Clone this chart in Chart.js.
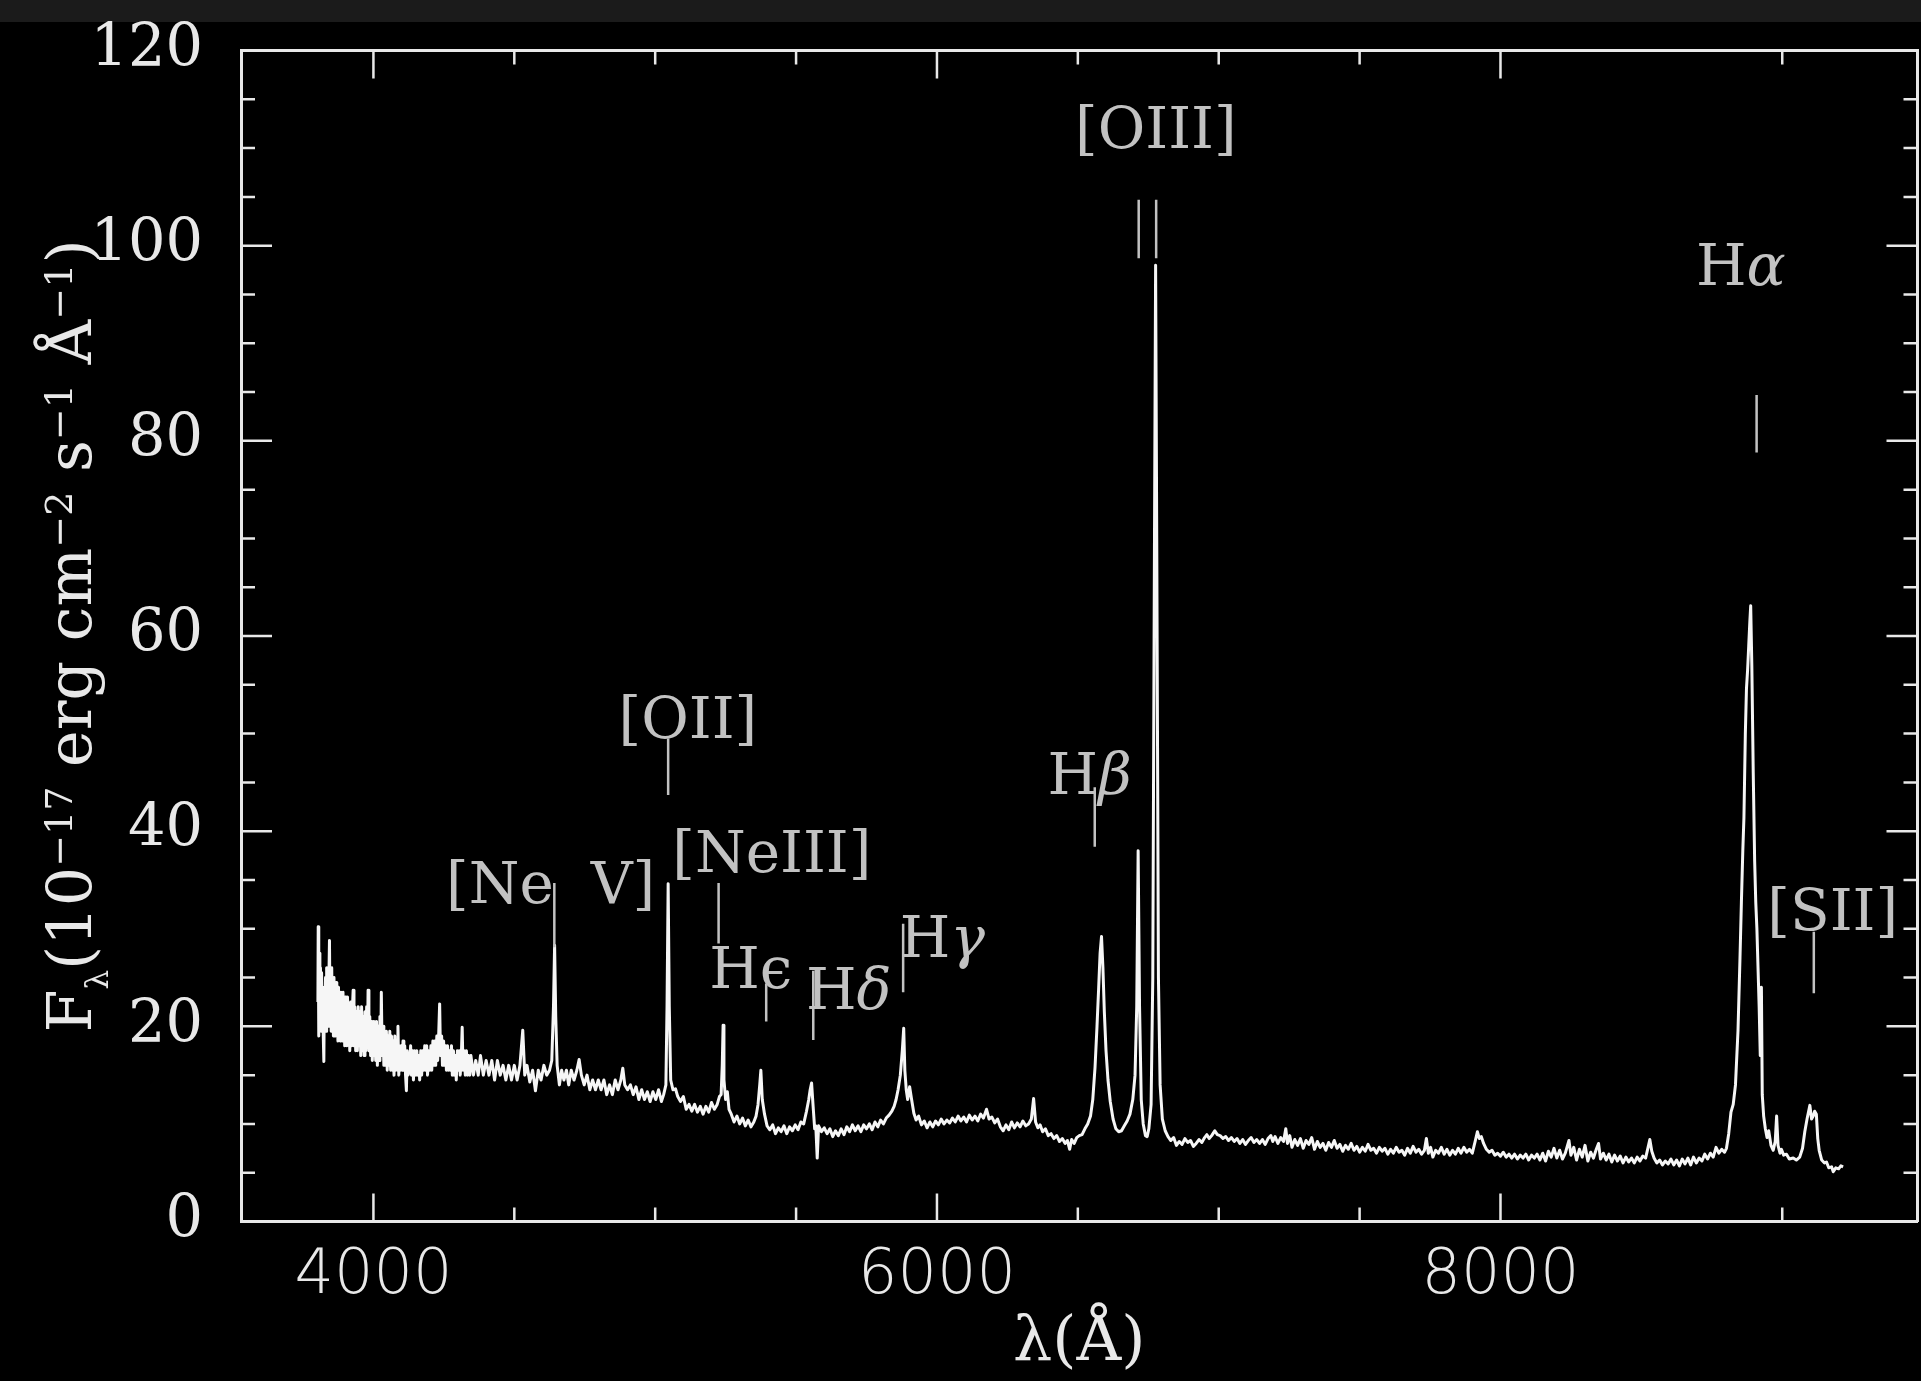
<!DOCTYPE html>
<html>
<head>
<meta charset="utf-8">
<title>Spectrum</title>
<script src="https://cdn.jsdelivr.net/npm/chart.js@4.4.1/dist/chart.umd.min.js"></script>
<style>
  html, body { margin: 0; padding: 0; background: #000; overflow: hidden; }
  canvas { display: block; }
</style>
</head>
<body>
<canvas id="spectrum" width="1921" height="1381"></canvas>
<script>
// observed spectrum read off the plot: wavelength in Angstrom, flux in 1e-17 erg cm-2 s-1 A-1
// noisy blue end
const blueWave = [
  3803, 3804, 3806, 3808, 3810, 3812, 3814, 3816, 3818, 3820, 3822, 3824, 3826, 3828, 3830, 3832,
  3834, 3836, 3838, 3840, 3842, 3844, 3846, 3848, 3850, 3852, 3854, 3856, 3858, 3860, 3862, 3864,
  3866, 3868, 3870, 3872, 3874, 3876, 3878, 3880, 3882, 3884, 3886, 3888, 3890, 3892, 3894, 3896,
  3898, 3900, 3902, 3904, 3906, 3908, 3910, 3913, 3916, 3919, 3922, 3925, 3928, 3931, 3934, 3937,
  3940, 3943, 3946, 3949, 3952, 3955, 3958, 3961, 3964, 3967, 3970, 3973, 3976, 3979, 3981, 3984,
  3987, 3990, 3993, 3996, 3999, 4002, 4005, 4008, 4011, 4014, 4017, 4020, 4023, 4026, 4028, 4031,
  4034, 4037, 4040, 4043, 4046, 4049, 4052, 4055, 4058, 4061, 4064, 4067, 4070, 4073, 4076, 4079,
  4082, 4085, 4087, 4090, 4093, 4096, 4099, 4102, 4105, 4108, 4111, 4114, 4117, 4120, 4123, 4128,
  4132, 4135, 4139, 4142, 4146, 4150, 4154, 4157, 4161, 4164, 4168, 4171, 4175, 4178, 4182, 4185,
  4189, 4192, 4196, 4200, 4204, 4207, 4211, 4214, 4218, 4221, 4225, 4228, 4232, 4235, 4238, 4242,
  4245, 4249, 4252, 4256, 4259, 4263, 4266, 4270, 4273, 4277, 4280, 4284, 4287, 4291, 4294, 4298,
  4301, 4305, 4308, 4312, 4315, 4318, 4322, 4326, 4330, 4334, 4338, 4342, 4346
];
const blueFlux = [
  22.5, 30.2, 19, 27.5, 20, 26, 19.5, 25.5, 21, 24, 19, 16.4, 24, 20, 25, 19.5,
  26, 20.5, 24.5, 20, 25, 28.8, 21, 25.5, 19.5, 26, 20, 24.5, 19, 25, 20, 23.5,
  19, 24.5, 20.5, 23, 18.5, 24, 19.5, 23, 18.5, 23.5, 19.5, 22.5, 18.5, 23.5, 19, 22.5,
  18, 23, 19, 22, 18, 23, 18.5, 22, 17.5, 22.5, 18, 21.5, 23.7, 18, 22, 17.5,
  21.5, 17.5, 22, 18, 21.5, 17, 22, 17.5, 21, 17, 21.5, 17.5, 22, 18, 23.7, 17.5,
  21, 17, 20.5, 16.5, 20.5, 17, 20, 16.5, 20.5, 16, 20, 16.5, 21, 17, 23.5, 17,
  20, 16, 19.5, 16, 19.5, 15.5, 19, 16, 19.5, 15.5, 19, 15.5, 18.5, 15, 19, 15.5,
  18.5, 15.5, 20, 15, 18, 15.5, 18, 15.5, 18.5, 15.5, 18, 15, 13.4, 17.5, 15, 15.5,
  18, 15, 17.5, 14.5, 17.5, 15, 17.5, 15, 17, 14.5, 17.5, 15, 17.5, 15.5, 18, 15.5,
  18, 15, 17.5, 15.5, 18, 15.5, 18.5, 16, 18.5, 16, 19, 16.5, 19.5, 22.3, 17, 19,
  16, 18.5, 16, 18, 15.5, 18, 15.5, 17.5, 15.5, 18, 15, 17.5, 15, 17, 14.5, 17.5,
  15.5, 17.5, 15, 17, 19.9, 15.5, 17.5, 15, 17.5, 15, 17, 15, 17
];
// rest of the spectrum
const redWave = [
  4355, 4363, 4372, 4380, 4390, 4400, 4410, 4420, 4430, 4440, 4450,
  4460, 4470, 4480, 4490, 4500, 4510, 4520, 4530, 4537, 4545, 4555, 4565, 4575, 4585, 4595, 4605,
  4615, 4625, 4633, 4639, 4643, 4647, 4652, 4660, 4668, 4676, 4685, 4693, 4702, 4712, 4722, 4730,
  4738, 4748, 4758, 4768, 4778, 4788, 4798, 4808, 4818, 4828, 4838, 4848, 4858, 4868, 4878, 4885,
  4892, 4902, 4912, 4922, 4932, 4942, 4952, 4962, 4972, 4982, 4992, 5002, 5012, 5022, 5030, 5038,
  5042, 5046, 5050, 5055, 5063, 5072, 5080, 5090, 5100, 5110, 5120, 5130, 5140, 5150, 5160, 5170,
  5180, 5190, 5200, 5210, 5220, 5228, 5234, 5238, 5241, 5244, 5250, 5256, 5262, 5270, 5280, 5290,
  5300, 5310, 5320, 5330, 5340, 5350, 5358, 5365, 5371, 5375, 5380, 5388, 5397, 5407, 5417, 5427,
  5437, 5447, 5457, 5467, 5477, 5487, 5497, 5507, 5517, 5527, 5537, 5545, 5550, 5555, 5560, 5566,
  5570, 5575, 5580, 5590, 5600, 5610, 5620, 5630, 5640, 5650, 5660, 5670, 5680, 5690, 5700, 5710,
  5720, 5730, 5740, 5750, 5760, 5770, 5780, 5790, 5800, 5810, 5820, 5830, 5840, 5848, 5855, 5862,
  5870, 5877, 5882, 5886, 5891, 5896, 5903, 5910, 5918, 5926, 5935, 5945, 5955, 5965, 5975, 5985,
  5995, 6005, 6015, 6025, 6035, 6045, 6055, 6065, 6075, 6085, 6095, 6105, 6115, 6125, 6135, 6145,
  6155, 6165, 6176, 6185, 6195, 6205, 6215, 6225, 6235, 6245, 6255, 6265, 6275, 6285, 6295, 6305,
  6315, 6325, 6335, 6343, 6350, 6358, 6366, 6375, 6385, 6395, 6405, 6415, 6425, 6435, 6445, 6455,
  6463, 6471, 6478, 6487, 6496, 6505, 6515, 6525, 6535, 6545, 6553, 6561, 6568, 6574, 6579, 6584,
  6589, 6594, 6600, 6607, 6615, 6625, 6635, 6645, 6655, 6665, 6675, 6685, 6695, 6703, 6709, 6714,
  6719, 6725, 6732, 6740, 6746, 6752, 6760, 6766, 6772, 6776, 6780, 6786, 6792, 6800, 6810, 6820,
  6830, 6840, 6850, 6860, 6870, 6880, 6890, 6900, 6910, 6920, 6930, 6940, 6950, 6958, 6966, 6975,
  6986, 6995, 7005, 7015, 7025, 7035, 7045, 7055, 7065, 7075, 7085, 7095, 7105, 7115, 7125, 7135,
  7145, 7155, 7165, 7175, 7185, 7192, 7200, 7210, 7220, 7230, 7238, 7244, 7252, 7260, 7270, 7280,
  7290, 7300, 7310, 7320, 7330, 7340, 7350, 7360, 7370, 7380, 7390, 7400, 7410, 7420, 7430, 7440,
  7450, 7460, 7470, 7480, 7490, 7500, 7510, 7520, 7530, 7540, 7550, 7560, 7570, 7580, 7590, 7600,
  7610, 7620, 7630, 7640, 7650, 7660, 7670, 7680, 7690, 7700, 7710, 7720, 7730, 7737, 7744, 7752,
  7760, 7770, 7780, 7790, 7800, 7810, 7820, 7830, 7840, 7850, 7860, 7870, 7880, 7890, 7900, 7910,
  7918, 7925, 7932, 7940, 7950, 7960, 7970, 7980, 7990, 8000, 8010, 8020, 8030, 8040, 8050, 8060,
  8070, 8080, 8090, 8100, 8110, 8120, 8130, 8140, 8150, 8160, 8170, 8180, 8190, 8200, 8210, 8220,
  8230, 8243, 8250, 8260, 8270, 8280, 8290, 8300, 8310, 8320, 8330, 8340, 8348, 8355, 8365, 8375,
  8385, 8395, 8405, 8415, 8425, 8435, 8445, 8455, 8465, 8475, 8485, 8495, 8505, 8515, 8523, 8530,
  8537, 8545, 8555, 8565, 8575, 8585, 8595, 8605, 8615, 8625, 8635, 8645, 8655, 8665, 8675, 8685,
  8695, 8705, 8715, 8725, 8735, 8745, 8755, 8765, 8775, 8785, 8795, 8802, 8810, 8818, 8826, 8834,
  8843, 8850, 8855, 8860, 8864, 8869, 8873, 8877, 8881, 8885, 8888, 8892, 8897, 8902, 8906, 8910,
  8914, 8918, 8922, 8926, 8929, 8934, 8940, 8946, 8952, 8960, 8968, 8975, 8980, 8985, 8992, 8997,
  9005, 9015, 9025, 9039, 9050, 9062, 9072, 9080, 9088, 9098, 9104, 9110, 9115, 9121, 9126, 9131,
  9140, 9150, 9157, 9165, 9175, 9181, 9190, 9200, 9208, 9216
];
const redFlux = [
  15, 16.5, 15, 17, 15, 16.5, 15, 16.5, 14.5, 16.5, 15,
  16, 14.5, 16, 14.5, 16, 14.5, 16, 19.6, 15, 16, 14.3, 15.5, 13.4, 15.5, 14.5, 16,
  15, 15.5, 16.5, 22, 28.3, 21, 16, 14, 15.5, 14.5, 15.5, 14, 15.5, 14.5, 15.5, 16.6,
  15, 14, 15, 13.5, 14.5, 13.5, 14.5, 13.5, 14.5, 13, 14, 13, 14.5, 13.5, 14.5, 15.7,
  14, 13.5, 14, 13, 13.8, 12.5, 13.5, 12.5, 13.3, 12.3, 13.3, 12.5, 13.5, 12.3, 13, 14,
  22, 34.6, 22, 14.5, 13.5, 13.6, 12.8, 12.3, 12.8, 11.5, 12, 11.3, 12, 11.2, 11.8, 11,
  11.8, 11.2, 12.2, 11.5, 12, 12.8, 13, 16, 20.1, 14.5, 12.5, 13.3, 11.5, 11, 10.2, 10.8,
  10, 10.6, 9.8, 10.4, 9.7, 10.2, 10.8, 12, 14, 15.5, 12.5, 11, 9.8, 9.4, 9.9, 9,
  9.6, 9.2, 9.8, 9, 9.7, 9.3, 9.9, 9.4, 10.2, 10, 11.3, 12.5, 13.5, 14.2, 12, 9.5,
  9.8, 6.5, 9.8, 9.2, 9.6, 9, 9.5, 8.7, 9.3, 8.8, 9.5, 8.9, 9.7, 9.2, 9.9, 9.3,
  9.8, 9.2, 9.9, 9.5, 10, 9.4, 10.2, 9.7, 10.4, 10, 10.6, 10.9, 11.3, 11.8, 12.5, 13.5,
  15, 17.5, 19.8, 15.5, 13.5, 12.5, 13.8, 12.5, 11.1, 10.4, 10.8, 9.9, 10.3, 9.6, 10.2, 9.7,
  10.3, 9.9, 10.5, 10, 10.4, 10.1, 10.6, 10.2, 10.8, 10.3, 10.7, 10.2, 10.9, 10.4, 10.8, 10.3,
  11, 10.6, 11.5, 10.5, 10.7, 10.1, 10.5, 9.7, 9.3, 9.9, 9.4, 10.2, 9.6, 10.1, 9.7, 10.3,
  9.8, 10, 10.5, 12.6, 10.2, 9.6, 9.9, 9.2, 9.5, 8.8, 9, 8.5, 8.8, 8.2, 8.5, 8,
  8.3, 7.4, 8.4, 8, 8.6, 8.8, 8.9, 9.5, 10, 10.8, 12.5, 15.8, 20, 24, 27.5, 29.2,
  26, 21.5, 17.5, 14.5, 12.3, 10.5, 9.5, 9.2, 9.3, 9.8, 10.3, 11, 12.5, 15, 22, 38,
  22, 12.5, 10, 8.8, 8.7, 9.5, 12, 25, 70, 98, 70, 25, 14, 10.5, 9.3, 8.7,
  8.3, 8.6, 7.8, 8.2, 7.9, 8.5, 8.1, 8.3, 7.7, 8, 8.4, 8.1, 8.6, 8.9, 8.5, 8.8,
  9.3, 8.9, 8.8, 8.5, 8.7, 8.3, 8.6, 8.2, 8.5, 8, 8.4, 7.9, 8.3, 8.6, 8.1, 8.4,
  8, 8.4, 7.9, 8.5, 8.8, 8.2, 8.7, 8, 8.6, 8.2, 9.5, 8, 8.8, 7.6, 8.4, 7.8,
  8.5, 7.5, 8.3, 7.9, 8.6, 7.4, 8.2, 7.6, 8, 7.3, 8.1, 7.6, 8.3, 7.5, 7.9, 7.2,
  7.8, 7.4, 8, 7.3, 7.7, 7.1, 7.6, 7.2, 7.9, 7.3, 7.5, 7, 7.6, 7.2, 7.5, 6.9,
  7.4, 7, 7.6, 7.1, 7.3, 6.8, 7.5, 7, 7.7, 7.1, 7.4, 6.9, 7.3, 8.5, 7, 7.6,
  6.6, 7.3, 7, 7.6, 6.9, 7.4, 6.8, 7.3, 6.9, 7.5, 7, 7.6, 7.1, 7.4, 7, 8.2,
  9.2, 8.5, 8.7, 8, 7.4, 7.1, 7.3, 6.8, 7, 6.7, 7.1, 6.6, 6.9, 6.5, 6.9, 6.4,
  6.8, 6.5, 6.9, 6.3, 6.8, 6.5, 6.9, 6.3, 7, 6.2, 7.2, 6.6, 7.5, 6.5, 7.3, 6.4,
  7, 8.3, 6.8, 7.6, 6.3, 7.4, 6.6, 7.8, 6.2, 7.1, 6.5, 7.4, 8, 6.4, 7, 6.3,
  6.9, 6.1, 6.8, 6.2, 6.7, 6, 6.6, 6.1, 6.5, 6, 6.6, 6.2, 6.7, 6.5, 7.5, 8.4,
  7.2, 6.5, 6, 6.3, 5.8, 6.2, 5.9, 6.4, 5.8, 6.3, 5.7, 6.4, 5.9, 6.5, 5.8, 6.6,
  6, 6.5, 6.2, 6.9, 6.4, 7, 6.6, 7.6, 7, 7.4, 7.1, 7.5, 9, 11.2, 12, 14,
  19.6, 27, 32.7, 38, 41.4, 50, 54.6, 56.5, 59, 61.5, 63.1, 57, 46, 37, 32.7, 30,
  26, 22, 17, 24, 13, 10.8, 9.5, 8.6, 9.3, 7.8, 7.3, 8.2, 10.8, 7.8, 7, 7.4,
  6.8, 6.9, 6.4, 6.5, 6.3, 6.6, 7.5, 9.2, 10.5, 11.9, 10.5, 10.8, 11.3, 11, 8.5, 7.3,
  6.3, 6, 6.1, 5.5, 5.6, 5.1, 5.5, 5.4, 5.7, 5.6
];

// axis ticks
const xTickLabels = [4000, 6000, 8000];
const xMinorTicks = [4500, 5000, 5500, 6500, 7000, 7500, 9000];
const yTickLabels = [0, 20, 40, 60, 80, 100, 120];
const yMinorTicks = [5, 10, 15, 25, 30, 35, 45, 50, 55, 65, 70, 75, 85, 90, 95, 105, 110, 115];

// line identifications: label text, centre wavelength, baseline flux
const lineNames = ['[Ne  V]', '[OII]', '[NeIII]', 'Hϵ', 'Hδ', 'Hγ', 'Hβ', '[OIII]', 'Hα', '[SII]'];
const labelWave = [4629, 5116, 5414, 5339, 5687, 6019, 6542, 6777, 8853, 9179];
const labelFlux = [32.6, 49.5, 35.8, 23.9, 21.8, 27.1, 43.8, 110, 96, 29.9];
// marker bars under the labels
const markWave = [4642, 5046, 5225, 5394, 5561, 5880, 6560, 6716, 6778, 8909, 9112];
const markTop = [34.7, 49.5, 34.7, 24.4, 25.7, 30.5, 44.5, 104.7, 104.7, 84.7, 29.7];
const markBottom = [28.1, 43.7, 28.5, 20.5, 18.6, 23.5, 38.4, 98.7, 98.7, 78.8, 23.4];

const frameColor = '#e8e8e8';
const labelGrey = '#c2c2c2';
const serif = '"DejaVu Serif", "Liberation Serif", serif';
const labelFont = '58px ' + serif;
const italicGreek = 'αβγδ';

// y title pieces: text, 0 normal, 1 superscript, -1 subscript
const yTitle = [['F', 0], ['λ', -1], ['(10', 0], ['−17', 1], [' erg cm', 0], ['−2', 1],
  [' s', 0], ['−1', 1], [' Å', 0], ['−1', 1], [')', 0]];

function drawRichText(ctx, parts, size) {
    const fonts = { '0': size + 'px ' + serif, '1': Math.round(size * 0.62) + 'px ' + serif, '-1': Math.round(size * 0.5) + 'px ' + serif };
    const shift = { '0': 0, '1': -size * 0.31, '-1': size * 0.28 };
    let total = 0;
    parts.forEach(p => { ctx.font = fonts[p[1]]; total += ctx.measureText(p[0]).width; });
    let pos = -total / 2;
    parts.forEach(p => {
        ctx.font = fonts[p[1]];
        ctx.fillText(p[0], pos, shift[p[1]]);
        pos += ctx.measureText(p[0]).width;
    });
}

const decor = {
    id: 'decor',
    beforeDraw(chart) {
        const ctx = chart.ctx;
        ctx.save();
        ctx.fillStyle = '#000';
        ctx.fillRect(0, 0, chart.width, chart.height);
        ctx.fillStyle = '#1b1b1b';
        ctx.fillRect(0, 0, chart.width, 22);
        ctx.restore();
    },
    afterDraw(chart) {
        const { ctx, chartArea: area, scales: { x, y } } = chart;
        ctx.save();

        // inward ticks on all four sides
        ctx.strokeStyle = frameColor;
        ctx.lineWidth = 2.5;
        ctx.beginPath();
        const xTick = (v, len) => {
            const px = x.getPixelForValue(v);
            ctx.moveTo(px, area.bottom); ctx.lineTo(px, area.bottom - len);
            ctx.moveTo(px, area.top); ctx.lineTo(px, area.top + len);
        };
        const yTick = (v, len) => {
            const py = y.getPixelForValue(v);
            ctx.moveTo(area.left, py); ctx.lineTo(area.left + len, py);
            ctx.moveTo(area.right, py); ctx.lineTo(area.right - len, py);
        };
        xMinorTicks.forEach(v => xTick(v, 14));
        xTickLabels.forEach(v => xTick(v, 28));
        yMinorTicks.forEach(v => yTick(v, 14));
        yTickLabels.forEach(v => yTick(v, 31));
        ctx.stroke();

        // marker bars
        ctx.strokeStyle = labelGrey;
        ctx.lineWidth = 2.5;
        ctx.beginPath();
        markWave.forEach((w, i) => {
            const px = x.getPixelForValue(w);
            ctx.moveTo(px, y.getPixelForValue(markTop[i]));
            ctx.lineTo(px, y.getPixelForValue(markBottom[i]));
        });
        ctx.stroke();

        // line names
        ctx.fillStyle = labelGrey;
        ctx.textBaseline = 'alphabetic';
        lineNames.forEach((name, i) => {
            const px = x.getPixelForValue(labelWave[i]);
            const py = y.getPixelForValue(labelFlux[i]);
            if (name.length === 2 && name[0] === 'H') {
                const greekFont = (italicGreek.includes(name[1]) ? 'italic ' : '') + labelFont;
                ctx.font = labelFont;
                const w1 = ctx.measureText('H').width;
                ctx.font = greekFont;
                const w2 = ctx.measureText(name[1]).width;
                const left = px - (w1 + w2) / 2;
                ctx.textAlign = 'left';
                ctx.font = labelFont;
                ctx.fillText('H', left, py);
                ctx.font = greekFont;
                ctx.fillText(name[1], left + w1, py);
            } else {
                ctx.font = labelFont;
                ctx.textAlign = 'center';
                ctx.fillText(name, px, py);
            }
        });

        // y axis title, rotated
        ctx.fillStyle = frameColor;
        ctx.textAlign = 'left';
        ctx.translate(91, (area.top + area.bottom) / 2);
        ctx.rotate(-Math.PI / 2);
        drawRichText(ctx, yTitle, 62);
        ctx.restore();
    }
};

const wavelength = blueWave.concat(redWave);
const flux = blueFlux.concat(redFlux);
const points = wavelength.map((w, i) => ({ x: w, y: flux[i] }));

const ctx = document.getElementById('spectrum').getContext('2d');
new Chart(ctx, {
    type: 'line',
    data: {
        datasets: [{
            data: points,
            borderColor: '#f6f6f6',
            borderWidth: 3,
            borderJoinStyle: 'round',
            pointRadius: 0,
            tension: 0
        }]
    },
    options: {
        responsive: false,
        animation: false,
        layout: { padding: 0 },
        plugins: { legend: { display: false }, tooltip: { enabled: false } },
        scales: {
            x: {
                type: 'linear', position: 'bottom', min: 3530, max: 9480,
                afterFit: s => { s.height = 159.5; },
                afterBuildTicks: s => { s.ticks = xTickLabels.map(v => ({ value: v })); },
                grid: { display: false },
                border: { display: true, color: frameColor, width: 3 },
                ticks: {
                    color: frameColor, padding: 10, maxRotation: 0, autoSkip: false,
                    font: { family: '"DejaVu Sans", sans-serif', size: 62, weight: '200' },
                    callback: v => String(v)
                },
                title: {
                    display: true, text: 'λ(Å)', color: frameColor,
                    font: { family: serif, size: 62 }, padding: { top: 0, bottom: 0 }
                }
            },
            xTop: {
                type: 'linear', position: 'top', min: 3530, max: 9480,
                afterFit: s => { s.height = 50.5; },
                grid: { display: false },
                border: { display: true, color: frameColor, width: 3 },
                ticks: { display: false }
            },
            y: {
                type: 'linear', position: 'left', min: 0, max: 120,
                afterFit: s => { s.width = 241; },
                afterBuildTicks: s => { s.ticks = yTickLabels.map(v => ({ value: v })); },
                grid: { display: true, drawOnChartArea: false, drawTicks: true, tickLength: 38, tickColor: 'rgba(0,0,0,0)' },
                border: { display: true, color: frameColor, width: 3 },
                ticks: {
                    color: frameColor, padding: 0, autoSkip: false,
                    font: { family: serif, size: 59 },
                    callback: v => String(v)
                }
            },
            yRight: {
                type: 'linear', position: 'right', min: 0, max: 120,
                afterFit: s => { s.width = 3.5; },
                grid: { display: false },
                border: { display: true, color: frameColor, width: 3 },
                ticks: { display: false }
            }
        }
    },
    plugins: [decor]
});
</script>
</body>
</html>
